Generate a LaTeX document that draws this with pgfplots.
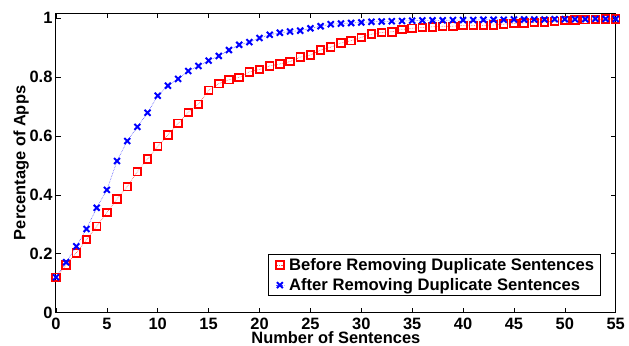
\documentclass[border=0pt]{standalone}
\usepackage{fontspec}
\setmainfont{Liberation Sans}
\usepackage{pgfplots}
\pgfplotsset{compat=1.18}
\pgfplotstableread{
x y
0 0.120
1 0.162
2 0.203
3 0.248
4 0.293
5 0.340
6 0.386
7 0.428
8 0.479
9 0.522
10 0.565
11 0.604
12 0.643
13 0.680
14 0.708
15 0.755
16 0.778
17 0.791
18 0.799
19 0.818
20 0.826
21 0.838
22 0.845
23 0.853
24 0.868
25 0.875
26 0.892
27 0.902
28 0.916
29 0.924
30 0.935
31 0.946
32 0.952
33 0.954
34 0.962
35 0.966
36 0.969
37 0.971
38 0.973
39 0.973
40 0.976
41 0.976
42 0.976
43 0.977
44 0.980
45 0.982
46 0.984
47 0.986
48 0.988
49 0.990
50 0.993
51 0.994
52 0.995
53 0.996
54 0.997
55 0.998
}\before
\pgfplotstableread{
x y
0 0.120
1 0.171
2 0.225
3 0.284
4 0.356
5 0.417
6 0.515
7 0.583
8 0.631
9 0.679
10 0.737
11 0.771
12 0.794
13 0.821
14 0.838
15 0.856
16 0.872
17 0.892
18 0.910
19 0.919
20 0.933
21 0.944
22 0.951
23 0.955
24 0.958
25 0.966
26 0.973
27 0.980
28 0.982
29 0.984
30 0.986
31 0.988
32 0.989
33 0.990
34 0.991
35 0.992
36 0.993
37 0.993
38 0.993
39 0.994
40 0.994
41 0.994
42 0.995
43 0.995
44 0.995
45 0.996
46 0.996
47 0.996
48 0.996
49 0.997
50 0.997
51 0.997
52 0.997
53 0.998
54 0.998
55 0.998
}\after
\begin{document}
\begin{tikzpicture}
\begin{axis}[
  scale only axis,
  width=560bp, height=299.4bp,
  xmin=0, xmax=55, ymin=0, ymax=1.017,
  xtick={0,5,...,55},
  ytick={0,0.2,0.4,0.6,0.8,1},
  yticklabels={0,0.2,0.4,0.6,0.8,1},
  tick align=inside,
  major tick length=5bp,
  tick style={black, line width=0.6bp},
  axis line style={line width=1bp},
  /pgf/number format/assume math mode=true,
  tick label style={font=\fontsize{16.5}{18}\selectfont\bfseries},
  label style={font=\fontsize{16.5}{18}\selectfont\bfseries},
  xlabel={Number of Sentences},
  ylabel={Percentage of Apps},
  xticklabel style={anchor=base, inner sep=0bp, yshift=-16.5bp},
  xlabel style={at={(axis description cs:0.5,0)}, anchor=base, inner sep=0bp, yshift=-30.5bp},
  ylabel style={yshift=-6bp},
  legend style={font=\fontsize{16.7}{18}\selectfont\bfseries, at={(0.973,0.054)}, anchor=south east, draw=black, line width=1bp, inner xsep=4bp, inner ysep=2bp, row sep=2.5bp, cells={anchor=west}},
  legend image code/.code={\path (-1bp,0) (13bp,0); \draw[#1, mark repeat=2, mark phase=2] plot coordinates {(2bp,0cm) (6bp,0cm) (10bp,0cm)};},
]
\addplot[red!70, densely dotted, line width=0.6bp, mark=square, mark size=3.8bp, mark options={solid, red, line width=1.8bp}] table[x=x,y=y] {\before};
\addlegendentry{Before Removing Duplicate Sentences}
\addplot[blue!70, densely dotted, line width=0.6bp, mark=x, mark size=4.2bp, mark options={solid, blue, line width=2bp}] table[x=x,y=y] {\after};
\addlegendentry{After Removing Duplicate Sentences}
\end{axis}
\pgfresetboundingbox
\useasboundingbox ([shift={(-56bp,-33.3bp)}]current axis.south west) rectangle ([shift={(13.3bp,13.3bp)}]current axis.north east);
\end{tikzpicture}
\end{document}
